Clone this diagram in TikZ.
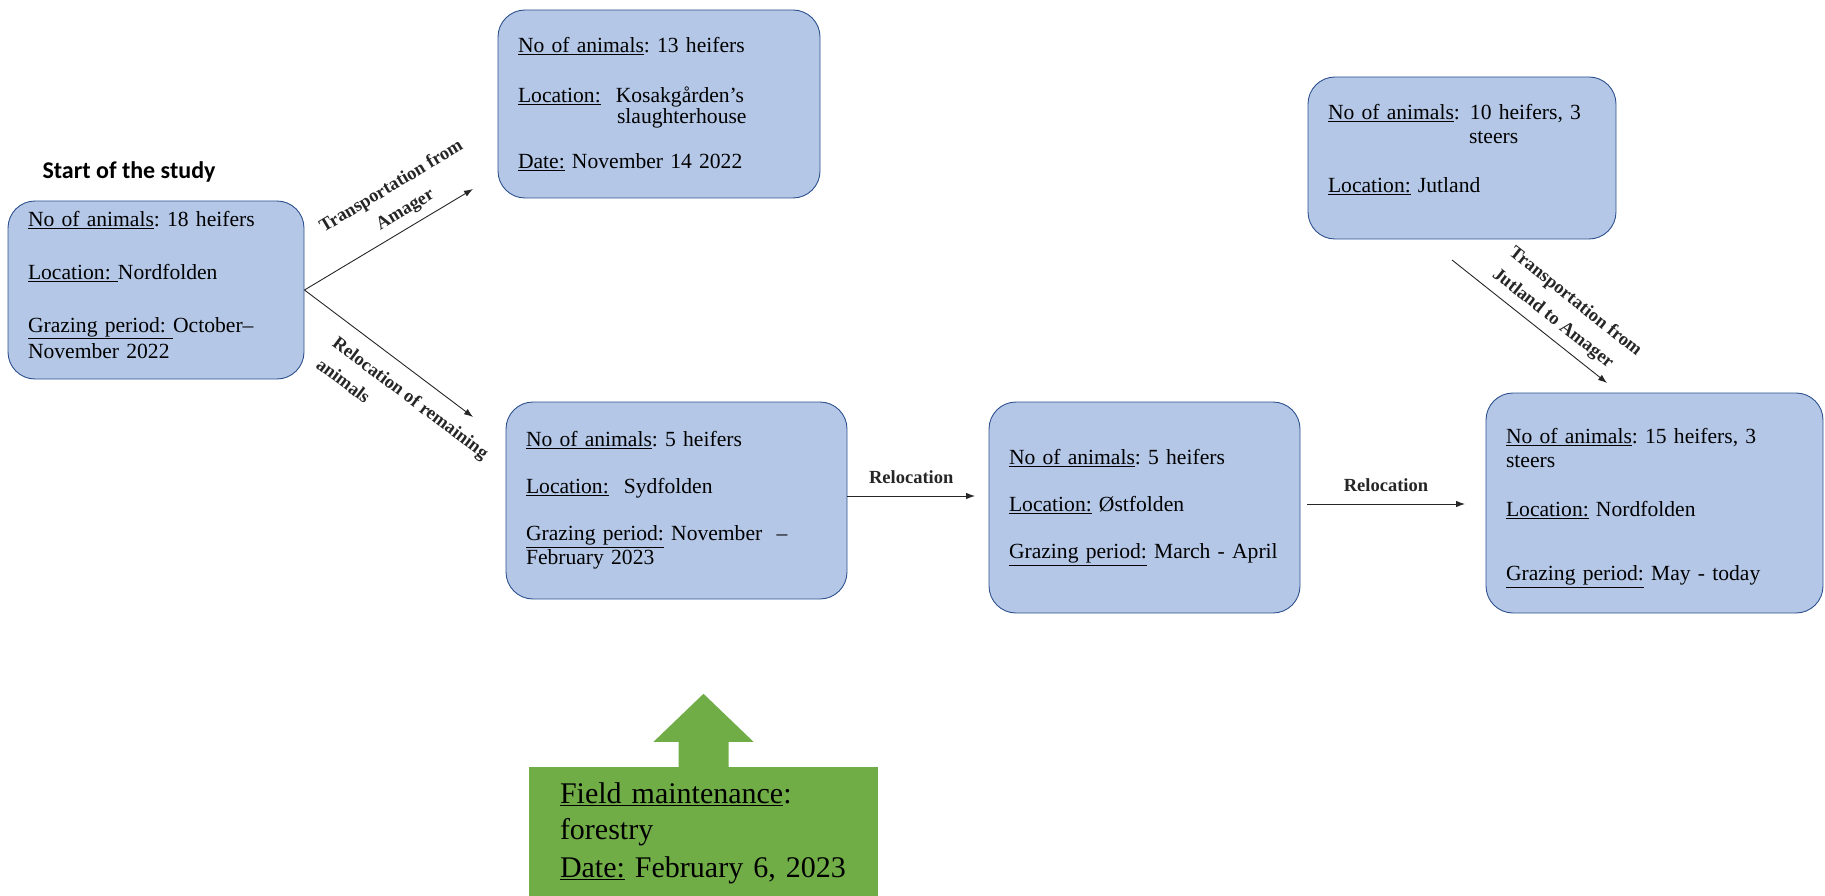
\documentclass[tikz,border=0pt]{standalone}
\usepackage{fontspec}
\setmainfont{Liberation Serif}
\newfontfamily\headfont{Carlito}
\usepackage{tikz}
\usetikzlibrary{positioning,arrows.meta}
\definecolor{boxblue}{HTML}{B4C7E7}
\definecolor{boxedge}{HTML}{2F528F}
\definecolor{maintgreen}{HTML}{70AD47}
\frenchspacing

\begin{document}
\begin{tikzpicture}[
    x=1pt, y=-1pt,
    infobox/.style={draw=boxedge, fill=boxblue, line width=0.9pt, rounded corners=27pt, align=left, inner xsep=20pt, inner ysep=0pt, font=\fontsize{21.6}{24}\selectfont},
    maintbox/.style={fill=maintgreen, align=left, inner xsep=31pt, inner ysep=0pt, font=\fontsize{30}{36}\selectfont},
    flow/.style={-{Latex[length=9pt,width=6.5pt]}, line width=0.9pt, black!85},
    arrowlbl/.style={font=\fontsize{18.5}{27}\selectfont\bfseries, inner sep=2pt}
]
    \useasboundingbox (0,0) rectangle (1825,896);

    % Titolo
    \node[font=\headfont\bfseries\fontsize{24}{28}\selectfont, anchor=base west] (head) at (39,179) {Start of the study};

    % Riquadri
    \node[infobox, minimum width=296pt, minimum height=178pt, text width=256pt] (nord) at (156,290) {\underline{No of animals}: 18 heifers\\[29pt]\underline{Location: }Nordfolden\\[29pt]\underline{Grazing period: }October–\\[2pt]November 2022\\[-14pt]\mbox{}};
    \node[infobox, minimum width=322pt, minimum height=188pt, text width=282pt] (slaughter) at (659,104) {\underline{No of animals}: 13 heifers\\[26pt]\underline{Location:}\hspace{15pt}Kosakgården’s\\[-3pt]\hspace*{99pt}slaughterhouse\\[21pt]\underline{Date:} November 14 2022};
    \node[infobox, minimum width=341pt, minimum height=197pt, text width=301pt] (syd) at (676.5,500.5) {\underline{No of animals}: 5 heifers\\[23pt]\underline{Location:}\hspace{15pt}Sydfolden\\[23pt]\underline{Grazing period:} November\ \ –\\February 2023};
    \node[infobox, minimum width=309pt, minimum height=211pt, text width=271pt] (ost) at (1144.5,507.5) {\underline{No of animals}: 5 heifers\\[23pt]\underline{Location:} Østfolden\\[23pt]\underline{Grazing period:} March - April};
    \node[infobox, minimum width=308pt, minimum height=162pt, text width=268pt] (jutland) at (1462,158) {\underline{No of animals}:\hspace{10pt}10 heifers, 3\\\hspace*{141pt}steers\\[25pt]\underline{Location:} Jutland\\[-4pt]\mbox{}};
    \node[infobox, minimum width=337pt, minimum height=220pt, text width=297pt] (nordfinal) at (1654.5,503) {\rule{0pt}{25pt}\underline{No of animals}: 15 heifers, 3\\steers\\[25pt]\underline{Location:} Nordfolden\\[40pt]\underline{Grazing period:} May - today};

    % Manutenzione
    \node[maintbox, minimum width=349pt, minimum height=132pt, text width=287pt] (maint) at (703.5,833) {\underline{Field maintenance}:\\forestry\\[2pt]\underline{Date:} February 6, 2023};
    \fill[maintgreen, shift={(maint.north)}] (-25,1) -- (-25,-25) -- (-50,-25) -- (0,-73) -- (50,-25) -- (25,-25) -- (25,1) -- cycle;

    % Estremi liberi delle frecce
    \coordinate (toslaughter) at (473,189);
    \coordinate (tosyd) at (473,417);
    \coordinate (relaend) at (975,496);
    \coordinate (relbstart) at (1307,504);
    \coordinate (relbend) at (1465,504);
    \coordinate (jutstart) at (1452,260);
    \coordinate (jutend) at (1607,383);

    % Frecce
    \draw[flow] (nord.east) -- node[arrowlbl, sloped, above, outer sep=6pt, pos=0.65, align=center] (lblslaughter) {Transportation from\\Amager} (toslaughter);
    \draw[flow] (nord.east) -- node[arrowlbl, sloped, below, outer sep=13pt, pos=0.71, align=left] (lblremain) {Relocation of remaining\\animals} (tosyd);
    \draw[flow] (syd.east |- relaend) -- node[arrowlbl, above=10pt] (lblrela) {Relocation} (relaend);
    \draw[flow] (relbstart) -- node[arrowlbl, above=10pt] (lblrelb) {Relocation} (relbend);
    \draw[flow] (jutstart) -- node[arrowlbl, sloped, above, outer sep=6pt, pos=0.62, align=left] (lbljut) {Transportation from\\Jutland to Amager} (jutend);

\end{tikzpicture}
\end{document}
